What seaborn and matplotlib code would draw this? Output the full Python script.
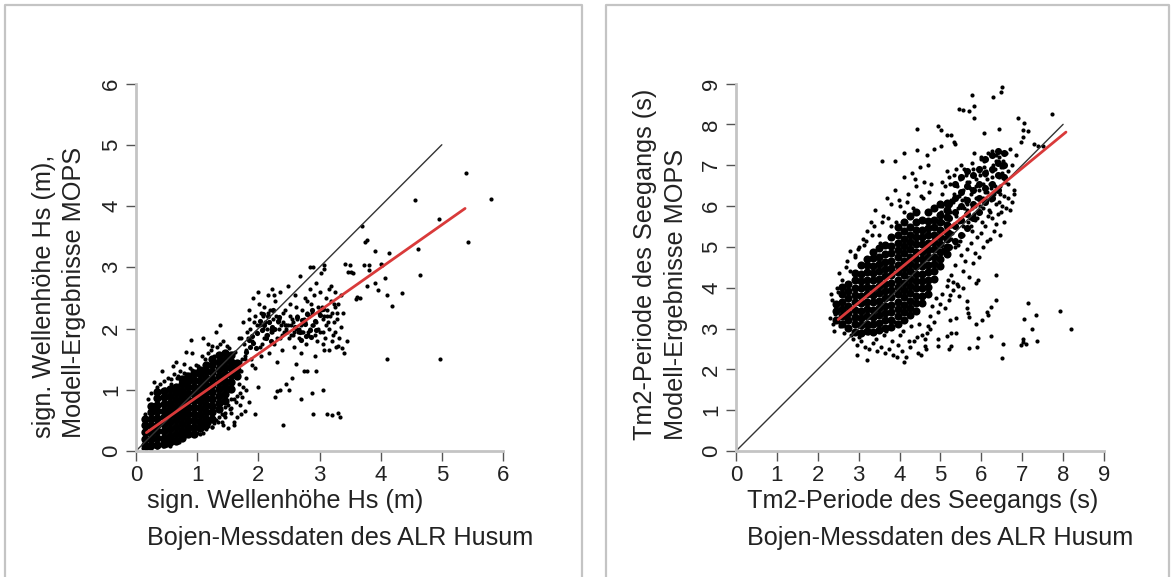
import matplotlib
matplotlib.use("Agg")
import matplotlib.pyplot as plt
from matplotlib.lines import Line2D
import seaborn as sns

sns.set_theme(style="white")
plt.rcParams['font.family'] = ['Liberation Sans']

# ---------- left panel (wave height) ----------
hs_outlier_x = [5.40,5.80,5.43,4.56,4.95,4.61,4.65,4.97,4.10,3.70,3.77,3.74,3.90,4.13,4.01,4.02,3.72,3.81,3.81,4.07,3.90,3.77,3.95,4.11,4.35,4.18,3.61,3.66,3.60,3.41,3.50,3.47,3.55,3.52,2.85,2.89,3.08,3.08,
                3.35,3.25,3.27,3.15,3.36,3.40,3.30,3.45,3.05,2.62,2.55,2.45,2.80,2.88,3.05,3.12,3.20,3.30,3.34,2.30,2.35,2.50,2.70,2.75,2.90,2.95,1.95,2.00,2.40,2.28]
hs_outlier_y = [4.54,4.11,3.41,4.10,3.78,3.30,2.88,1.51,1.51,3.67,3.45,3.42,3.26,3.24,3.06,3.03,3.03,3.04,2.95,2.82,2.75,2.70,2.63,2.55,2.58,2.36,2.52,2.49,2.48,3.05,3.03,2.92,2.90,2.93,3.01,3.01,3.04,2.97,
                2.02,1.95,1.70,1.65,1.68,1.60,1.72,1.80,1.75,1.42,1.20,1.10,1.30,0.95,1.00,0.60,0.58,0.62,0.55,0.98,1.00,1.00,0.85,1.30,0.60,1.30,0.60,1.05,0.43,0.88]
hs_band_x = [1.70,1.75,1.80,1.82,1.85,1.88,1.90,1.92,1.95,1.98,2.00,2.02,2.05,2.08,2.10,2.12,2.15,2.18,2.20,2.22,2.25,2.28,2.30,2.32,2.35,2.38,2.40,2.42,2.45,2.48,2.50,2.52,2.55,2.58,2.60,2.62,2.65,2.68,2.70,2.72,2.75,2.78,2.80,2.82,2.85,2.88,2.90,2.92,2.95,2.98,3.00,3.02,3.05,3.08,3.10,3.12,3.15,3.18,3.20,3.22,3.25,3.28,3.30,3.32,3.35,3.38,
             1.72,1.78,1.84,1.90,1.96,2.04,2.06,2.14,2.16,2.24,2.26,2.34,2.36,2.44,2.46,2.54,2.56,2.64,2.66,2.74,2.76,2.84,2.86,2.94,2.96,3.04,3.06,3.14,3.16,3.24,3.26,
             1.74,1.86,1.94,2.01,2.09,2.11,2.19,2.21,2.29,2.31,2.39,2.41,2.49,2.51,2.59,2.61,2.69,2.71,2.79,2.81,2.89,2.91,2.99,3.01,3.09,3.11,3.19,3.21,3.29,
             1.76,1.83,1.93,2.03,2.13,2.23,2.33,2.43,2.53,2.63,2.73,2.83,2.93,3.03,3.13,3.23,2.07,2.17,2.27,2.37,2.47,2.57,2.67,2.77,2.87,2.97,3.07,3.17]
hs_band_y = [1.45,2.10,1.65,1.95,2.30,1.50,1.80,2.50,1.35,2.05,2.60,1.70,1.55,2.20,2.35,1.90,2.55,1.60,2.00,2.65,1.75,2.45,1.45,2.10,2.60,1.65,2.25,1.95,2.05,2.70,1.85,2.40,2.15,1.70,2.55,2.00,1.95,2.85,1.60,2.30,2.10,1.75,2.45,1.90,2.65,2.25,2.05,1.55,2.75,2.35,1.95,2.90,2.15,1.65,2.50,2.30,2.00,2.70,2.25,1.90,2.60,2.15,2.40,1.85,2.55,2.25,
             1.85,1.55,2.15,1.40,1.95,2.25,1.75,2.00,2.25,2.15,2.55,2.00,1.85,2.30,2.00,2.05,1.90,2.20,1.85,2.15,2.50,2.00,2.40,2.10,1.80,2.35,1.95,2.10,2.65,2.10,2.35,
             1.50,2.00,2.20,2.40,1.85,2.10,2.30,1.95,2.20,1.85,1.90,2.10,2.05,2.20,1.95,2.35,2.05,1.95,2.25,1.95,2.05,2.55,2.25,2.60,1.85,2.05,2.45,1.80,2.25,
             1.75,1.85,2.10,2.05,1.85,1.95,2.15,2.05,1.90,2.15,1.95,2.20,1.90,2.30,2.20,2.40,2.00,2.10,2.00,2.05,1.95,2.10,2.00,2.10,2.05,2.00,2.20,2.20]
hs_edge_x = [0.12,0.15,0.18,0.20,0.22,0.25,0.28,0.30,0.32,0.35,0.38,0.40,0.42,0.45,0.48,0.50,0.52,0.55,0.58,0.60,0.62,0.65,0.68,0.70,0.72,0.75,0.78,0.80,0.82,0.85,0.88,0.90,0.92,0.95,0.98,1.00,1.02,1.05,1.08,1.10,1.12,1.15,1.18,1.20,1.22,1.25,1.28,1.30,1.32,1.35,1.38,1.40,1.42,1.45,1.48,1.50,1.52,1.55,1.58,1.60,1.62,1.65,1.68,1.70,1.72,1.75,1.78,1.80,
             0.16,0.24,0.27,0.34,0.37,0.44,0.47,0.54,0.57,0.64,0.67,0.74,0.77,0.84,0.87,0.94,0.97,1.04,1.07,1.14,1.17,1.24,1.27,1.34,1.37,1.44,1.47,1.54,1.57,1.64,1.67,1.74,
             0.42,0.60,0.50,0.32,0.78,0.66,0.92,0.82,1.10,0.90,1.18,1.30,1.38,1.25,1.40,1.42,1.10,1.28,1.45,1.50,1.60,1.45,1.55,1.55,1.70,1.78,1.85,1.65,1.72,1.60,1.68,1.80,0.55]
hs_edge_y = [0.05,0.60,0.08,0.85,0.05,0.95,0.08,1.12,0.12,1.05,0.10,1.10,0.14,1.15,0.12,0.60,1.20,0.16,1.18,0.18,1.25,0.20,1.22,0.15,1.30,0.22,1.28,0.25,1.25,0.28,1.35,0.30,1.32,0.33,1.40,0.30,1.38,0.35,1.55,0.38,1.50,0.42,1.60,0.45,1.65,0.40,1.55,0.50,1.70,0.55,1.75,0.60,1.80,0.62,1.72,0.75,1.68,0.70,1.60,0.85,1.62,0.90,1.85,0.95,1.30,1.05,1.50,1.20,
             0.03,0.04,0.75,0.06,0.98,0.08,1.02,0.13,1.10,0.19,1.20,0.24,1.15,0.26,1.22,0.31,1.28,0.28,1.32,0.36,1.42,0.40,1.45,0.48,1.52,0.58,1.58,0.68,1.48,0.80,1.45,0.88,
             1.30,1.38,0.10,1.00,1.42,1.45,1.60,1.62,1.85,1.82,1.75,1.95,2.05,1.72,0.48,0.42,0.30,0.45,0.55,0.38,0.42,0.72,0.62,0.85,0.75,0.65,0.80,0.55,0.60,0.48,1.10,1.00,0.08]
hs_clump_x = [1.98,2.06,2.14,2.22,2.02,2.10,2.18,2.26,2.34,2.08,2.16,2.24,2.32,2.12,2.20,2.60,2.68,2.76,2.84,2.92,2.64,2.72,2.80,2.88,2.70,2.78,2.86,2.94,3.00,3.06,1.80,1.86,1.92,1.84,1.90,1.96]
hs_clump_y = [1.92,1.98,1.90,2.02,2.12,2.06,2.10,2.00,2.18,2.24,2.20,2.30,2.12,1.84,1.80,2.02,1.94,2.08,1.98,2.12,2.18,2.14,2.24,2.30,1.82,1.88,1.86,1.98,2.22,2.32,1.62,1.70,1.76,1.82,1.88,1.68]
hs_col_x = [0.15,0.25,0.35,0.45,0.55,0.65,0.75,0.85,0.95,1.05,1.15,1.25,1.35,1.45,1.55,1.65]
hs_col_y = [[0.10,0.20,0.31,0.42,0.52],
            [0.09,0.19,0.30,0.41,0.52,0.63,0.74],
            [0.10,0.21,0.32,0.43,0.54,0.65,0.75,0.86,0.96],
            [0.12,0.22,0.33,0.44,0.55,0.66,0.77,0.88,0.98],
            [0.14,0.25,0.36,0.47,0.58,0.68,0.79,0.90,1.01],
            [0.17,0.28,0.39,0.50,0.61,0.72,0.83,0.94,1.05],
            [0.22,0.33,0.44,0.55,0.66,0.77,0.88,0.98,1.09,1.18],
            [0.27,0.38,0.49,0.60,0.71,0.82,0.93,1.04,1.14,1.22],
            [0.28,0.39,0.50,0.61,0.72,0.83,0.94,1.05,1.16,1.27],
            [0.37,0.48,0.59,0.70,0.81,0.92,1.03,1.14,1.25,1.33],
            [0.42,0.53,0.64,0.75,0.86,0.97,1.08,1.19,1.30,1.41],
            [0.52,0.63,0.74,0.85,0.96,1.07,1.18,1.29,1.40,1.51],
            [0.68,0.79,0.90,1.01,1.12,1.23,1.34,1.45,1.56],
            [0.82,0.93,1.04,1.15,1.26,1.37,1.48,1.60],
            [1.02,1.13,1.24,1.35,1.46,1.57],
            [1.22,1.33,1.44]]
hs_fit_x = [0.17,5.38]
hs_fit_y = [0.30,3.96]
hs_ideal = [0,5]

# ---------- right panel (wave period) ----------
tm_outlier_x = [6.50,6.48,5.78,6.28,5.83,5.45,5.54,5.70,5.81,7.72,6.90,7.05,7.03,7.15,7.03,6.97,7.29,7.39,7.51,6.43,6.07,4.93,5.01,4.42,5.15,5.25,5.33,5.35,5.02,4.12,4.42,4.84,4.68,3.89,3.58,
                7.92,8.19,7.15,7.33,7.05,7.25,7.37,7.03,6.96,7.09,7.01,6.54,6.51,6.24,5.92,5.90,5.69,6.37,5.92,5.88,6.37,6.23,6.15,6.17,6.01,5.88,5.66,5.66,5.68,5.71,5.38,5.25,5.15,4.95,4.95,5.22,5.26,4.63,4.52,4.11,3.94,3.21,2.97,5.23,5.38,5.23,5.19,5.31,5.43,5.56]
tm_outlier_y = [8.92,8.79,8.73,8.66,8.44,8.38,8.34,8.32,8.15,8.26,8.15,8.03,7.85,7.83,7.68,7.56,7.52,7.48,7.46,7.89,7.78,7.97,7.87,7.89,7.75,7.74,7.56,7.51,7.48,7.30,7.37,7.40,7.25,7.11,7.09,
                3.43,2.99,3.63,3.33,3.23,3.00,2.69,2.74,2.60,2.61,2.67,2.61,2.27,2.82,2.77,2.55,2.53,4.31,4.18,4.12,3.69,3.53,3.41,3.33,3.22,3.10,3.67,3.49,3.38,3.29,2.88,2.90,2.81,2.75,2.58,2.51,2.57,2.58,2.36,2.19,2.31,2.24,2.35,3.81,3.26,3.22,4.18,4.14,4.04,3.98]
tm_upper_x = [5.00,5.05,5.10,5.15,5.20,5.25,5.30,5.35,5.40,5.45,5.50,5.55,5.60,5.65,5.70,5.75,5.80,5.85,5.90,5.95,6.00,6.05,6.10,6.15,6.20,6.25,6.30,6.35,6.40,6.45,6.50,6.55,6.60,6.65,6.70,6.75,6.80,6.85,
              5.02,5.08,5.12,5.18,5.22,5.28,5.32,5.38,5.42,5.48,5.52,5.58,5.62,5.68,5.72,5.78,5.82,5.88,5.92,5.98,6.02,6.08,6.12,6.18,6.22,6.28,6.32,6.38,6.42,6.48,6.52,6.58,
              5.04,5.14,5.24,5.34,5.44,5.54,5.64,5.74,5.84,5.94,6.04,6.14,6.24,6.34,6.44,6.54,6.64,5.06,5.16,5.26,5.36,5.46,5.56,5.66,5.76,5.86,5.96,6.06,6.16,6.26,6.36,6.46,6.56,
              5.03,5.13,5.23,5.33,5.43,5.53,5.63,5.73,5.83,5.93,6.03,6.13,6.23,6.33,6.43,5.07,5.17,5.27,5.37,5.47,5.57,5.67,5.77,5.87,5.97,6.07,6.17,6.27,6.37,6.47]
tm_upper_y = [5.40,6.30,4.90,5.80,6.70,5.20,6.10,5.00,6.50,5.60,7.00,5.30,6.20,5.90,6.60,5.50,6.90,6.00,5.70,6.40,7.20,5.95,6.75,6.15,5.85,7.35,6.35,6.05,7.10,6.50,6.80,6.25,7.30,6.55,7.40,7.00,6.40,7.25,
              5.85,5.25,6.50,5.55,6.00,5.35,6.75,5.75,6.25,5.15,5.65,6.90,6.10,5.45,6.45,7.05,5.80,6.65,6.20,7.15,5.60,6.35,6.85,5.90,6.55,7.00,6.30,6.75,7.20,5.85,6.95,6.60,
              6.00,5.45,6.55,5.55,5.95,6.40,6.05,6.30,5.65,6.85,6.55,6.35,6.15,6.90,6.70,7.10,6.85,4.95,5.70,6.15,5.10,6.25,5.50,6.60,5.40,6.50,6.00,6.95,7.30,6.70,7.25,6.30,7.30,
              6.60,6.05,5.85,6.30,5.05,6.15,6.75,5.70,7.30,5.85,6.20,6.65,6.45,6.50,6.10,5.60,6.85,5.50,6.90,6.65,5.95,5.60,5.95,6.20,6.75,7.10,5.75,6.85,7.10,6.95]
tm_left_x = [2.30,2.35,2.40,2.45,2.50,2.55,2.60,2.65,2.70,2.75,2.80,2.85,2.90,2.95,3.00,3.05,3.10,3.15,3.20,3.25,3.30,3.35,3.40,3.45,3.50,3.55,3.60,3.65,3.70,3.75,3.80,3.85,3.90,3.95,4.00,4.05,4.10,4.15,4.20,4.25,4.30,4.35,4.40,4.45,4.50,4.55,4.60,4.65,4.70,4.75,
             2.32,2.42,2.52,2.62,2.72,2.82,2.92,3.02,3.12,3.22,3.32,3.42,3.52,3.62,3.72,3.82,3.92,4.02,4.12,4.22,4.32,4.42,4.52,4.62,4.72,2.38,2.48,2.58,2.68,2.78,2.88,2.98,3.08,3.18,3.28,3.38,3.48,3.58,3.68,3.78,3.88,3.98,4.08,4.18,4.28,4.38,4.48,4.58,4.68,4.78]
tm_left_y = [3.25,3.70,2.95,3.50,3.90,3.05,4.20,2.90,4.50,3.00,4.40,2.75,4.80,2.60,5.00,2.70,5.20,2.55,5.40,2.50,5.60,2.65,5.90,2.45,5.30,2.55,5.75,2.40,6.20,2.50,5.50,2.35,6.40,2.60,6.00,2.45,6.70,2.30,6.30,2.55,6.80,2.70,6.50,2.40,6.95,2.85,6.60,2.50,7.00,3.00,
             3.85,3.35,4.35,3.15,4.65,2.85,4.75,2.80,5.05,2.90,5.30,2.75,5.10,2.85,5.70,2.70,5.60,2.85,5.85,2.70,5.95,2.80,6.25,2.75,6.35,3.10,4.00,3.10,3.30,4.90,3.20,4.95,2.95,5.15,3.05,5.50,3.00,5.60,2.95,6.05,3.15,6.15,2.95,6.10,3.05,6.65,3.10,6.20,2.90,6.55]
tm_right_x = [4.70,4.75,4.80,4.85,4.90,4.95,5.00,5.05,5.10,5.15,5.20,5.25,5.30,5.35,5.40,5.45,5.50,5.55,5.60,5.65,5.70,5.75,5.80,5.85,5.90,5.95,6.00,6.05,6.10,6.15,6.20,6.25,6.30,6.35,6.40,6.45,6.50,6.55,6.60,6.65,6.70,6.75,6.80]
tm_right_y = [3.05,3.30,3.55,3.15,3.75,3.40,3.60,3.85,3.50,4.05,3.70,4.30,3.95,4.55,4.10,3.80,4.80,4.40,4.65,4.95,4.25,5.10,4.60,4.85,5.25,4.75,5.35,5.00,5.50,5.15,5.20,5.70,5.40,5.55,5.80,5.30,6.00,5.60,5.95,6.20,5.90,6.10,6.30]
tm_clump_x = [5.2,5.2,5.2,5.2,5.35,5.35,5.35,5.35,5.35,5.5,5.5,5.5,5.5,5.5,5.65,5.65,5.65,5.65,5.65,5.8,5.8,5.8,5.8,5.95,5.95,5.95,5.95,6.1,6.1,6.1,6.1,6.25,6.25,6.25,6.25,6.4,6.4,6.4,6.4,6.55,6.55,6.55]
tm_clump_y = [5.0,5.35,5.7,6.05,5.15,5.5,5.85,6.2,6.55,5.3,5.65,6.0,6.35,6.7,5.45,5.8,6.15,6.5,6.85,5.7,6.05,6.4,6.75,5.85,6.2,6.55,6.9,6.1,6.45,6.8,7.15,6.2,6.55,6.9,7.25,6.4,6.75,7.05,7.35,6.7,7.0,7.3]
tm_col_x = [2.45,2.60,2.75,2.90,3.05,3.20,3.35,3.50,3.65,3.80,3.95,4.10,4.25,4.40,4.55,4.70,4.85,5.00,5.15]
tm_col_y = [[3.22,3.42,3.60],
            [3.12,3.30,3.48,3.66,3.84,4.02],
            [3.02,3.20,3.38,3.56,3.74,3.92,4.10],
            [2.92,3.10,3.28,3.46,3.64,3.82,4.00,4.18,4.36],
            [2.90,3.08,3.26,3.44,3.62,3.80,3.98,4.16,4.34,4.55],
            [2.94,3.12,3.30,3.48,3.66,3.84,4.02,4.20,4.38,4.56,4.70],
            [2.92,3.10,3.28,3.46,3.64,3.82,4.00,4.18,4.36,4.54,4.72,4.88],
            [2.96,3.14,3.32,3.50,3.68,3.86,4.04,4.22,4.40,4.58,4.76,4.98],
            [3.02,3.20,3.38,3.56,3.74,3.92,4.10,4.28,4.46,4.64,4.82,5.04],
            [3.04,3.22,3.40,3.58,3.76,3.94,4.12,4.30,4.48,4.66,4.84,5.02,5.25],
            [3.12,3.30,3.48,3.66,3.84,4.02,4.20,4.38,4.56,4.74,4.92,5.10,5.30,5.48],
            [3.22,3.40,3.58,3.76,3.94,4.12,4.30,4.48,4.66,4.84,5.02,5.20,5.38,5.62],
            [3.32,3.50,3.68,3.86,4.04,4.22,4.40,4.58,4.76,4.94,5.12,5.30,5.48,5.76],
            [3.44,3.62,3.80,3.98,4.16,4.34,4.52,4.70,4.88,5.06,5.24,5.42,5.60,5.85],
            [3.62,3.80,3.98,4.16,4.34,4.52,4.70,4.88,5.06,5.24,5.42,5.65],
            [3.84,4.02,4.20,4.38,4.56,4.74,4.92,5.10,5.28,5.46,5.64,5.86],
            [4.22,4.40,4.58,4.76,4.94,5.12,5.30,5.48,5.66,5.95],
            [4.52,4.70,4.88,5.06,5.24,5.42,5.60,5.78,6.05],
            [4.82,5.00,5.18,5.36,5.54,5.72,5.90,6.08]]
tm_fit_x = [2.50,8.07]
tm_fit_y = [3.22,7.81]
tm_ideal = [0,8]

W, H = 1176, 577
fig = plt.figure(figsize=(W/100, H/100), dpi=100, facecolor="white")
TICK_FS = 16
LABEL_FS = 18.2
GREY = "#c4c4c4"
INK = "#222222"

for xs in ([5,582],[606,1169]):
    fig.add_artist(Line2D([xs[0]/W,xs[0]/W,xs[1]/W,xs[1]/W],[0,1-5/H,1-5/H,0],color=GREY,lw=1.6,transform=fig.transFigure))

def flatten(cols, rows):
    xs, ys = [], []
    for c, r in zip(cols, rows):
        xs += [c]*len(r); ys += r
    return xs, ys

def panel(left, width, lim, core, core_s, clump, clump_s, sparse, ideal, fit_x, fit_y):
    ax = fig.add_axes([left/W, (H-451)/H, width/W, 367.5/H])
    ax.set_facecolor("none")
    cx, cy = flatten(*core)
    sns.scatterplot(x=cx, y=cy, ax=ax, s=core_s, color="black", linewidth=0, legend=False, clip_on=False)
    sns.scatterplot(x=clump[0], y=clump[1], ax=ax, s=clump_s, color="black", linewidth=0, legend=False, clip_on=False)
    for x, y in sparse:
        sns.scatterplot(x=x, y=y, ax=ax, s=9, color="black", linewidth=0, legend=False, clip_on=False)
    sns.lineplot(x=ideal, y=ideal, ax=ax, color="#333333", lw=1.0, legend=False, errorbar=None)
    sns.lineplot(x=fit_x, y=fit_y, ax=ax, color="#d93a3a", lw=2.0, legend=False, errorbar=None)
    ax.set_xlim(0, lim); ax.set_ylim(0, lim)
    ax.set_xticks(range(lim+1)); ax.set_yticks(range(lim+1))
    ax.tick_params(direction="out", length=7.5, width=1.0, color="#555555", labelsize=TICK_FS, labelcolor=INK, pad=2.5, left=True, bottom=True)
    for lab in ax.get_yticklabels():
        lab.set_rotation(90); lab.set_va("center")
    sns.despine(ax=ax)
    for s in ("left","bottom"):
        ax.spines[s].set_color(GREY); ax.spines[s].set_linewidth(2.0)
    return ax

panel(136, 367, 6, (hs_col_x,hs_col_y), 36, (hs_clump_x,hs_clump_y), 14,
      [(hs_outlier_x,hs_outlier_y),(hs_band_x,hs_band_y),(hs_edge_x,hs_edge_y)], hs_ideal, hs_fit_x, hs_fit_y)
panel(736, 368, 9, (tm_col_x,tm_col_y), 34, (tm_clump_x,tm_clump_y), 26,
      [(tm_outlier_x,tm_outlier_y),(tm_upper_x,tm_upper_y),(tm_left_x,tm_left_y),(tm_right_x,tm_right_y)], tm_ideal, tm_fit_x, tm_fit_y)

def label(px, py, s, rot=0):
    fig.text(px/W, 1-py/H, s, fontsize=LABEL_FS, color=INK, rotation=rot,
             ha="left" if rot==0 else "center", va="center" if rot==0 else "bottom", rotation_mode="default")

label(147, 501, "sign. Wellenhöhe Hs (m)")
label(147, 538, "Bojen-Messdaten des ALR Husum")
label(747, 501, "Tm2-Periode des Seegangs (s)")
label(747, 538, "Bojen-Messdaten des ALR Husum")
label(44, 438, "sign. Wellenhöhe Hs (m),", 90)
label(74, 438, "Modell-Ergebnisse MOPS", 90)
label(645, 440, "Tm2-Periode des Seegangs (s)", 90)
label(676, 440, "Modell-Ergebnisse MOPS", 90)

fig.savefig("out.png", dpi=100)
